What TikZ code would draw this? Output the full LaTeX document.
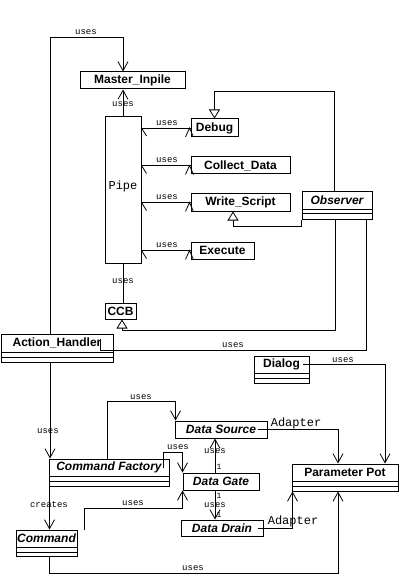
\documentclass[tikz,border=0pt]{standalone}
\usepackage{fontspec}
\setsansfont{Liberation Sans}
\setmonofont{Liberation Mono}
\usetikzlibrary{arrows.meta}

\tikzset{
  cls/.style={draw, line width=1pt, inner sep=0pt, font=\sffamily\bfseries\fontsize{12}{14}\selectfont},
  clsname/.style={inner sep=0pt, font=\sffamily\bfseries\fontsize{12}{14}\selectfont},
  ital/.style={font=\sffamily\bfseries\itshape\fontsize{12}{14}\selectfont},
  sepline/.style={line width=1pt},
  conn/.style={line width=0.8pt},
  uses/.style={conn, -{Straight Barb[length=9pt,width=10pt]}},
  inh/.style={conn, -{Triangle[open,length=9pt,width=11pt,fill=white]}},
  lbl/.style={inner sep=0pt, font=\ttfamily\fontsize{9}{10}\selectfont},
  lblbig/.style={inner sep=0pt, font=\ttfamily\fontsize{12}{14}\selectfont},
  lblsm/.style={inner sep=0pt, font=\ttfamily\fontsize{8}{9}\selectfont},
}

% #1 options, #2 name, #3 x1, #4 y1, #5 x2, #6 y2, #7 text
\newcommand\plainbox[7][]{%
  \node[cls,#1,minimum width={#5-#3},minimum height={#6-#4}] (#2) at ({(#3+#5)/2},{(#4+#6)/2}) {#7};}
% #1 options, #2 name, #3 x1, #4 y1, #5 x2, #6 y2, #7 sep1, #8 sep2, #9 text
\newcommand\umlclass[9][]{%
  \node[cls,minimum width={#5-#3},minimum height={#6-#4}] (#2) at ({(#3+#5)/2},{(#4+#6)/2}) {};
  \node[clsname,#1,minimum width={#5-#3},minimum height={#7-#4}] (#2n) at ({(#3+#5)/2},{(#4+#7)/2}) {#9};
  \draw[sepline] (#2.west |- 0,#7) -- (#2.east |- 0,#7) (#2.west |- 0,#8) -- (#2.east |- 0,#8);}

\begin{document}
\begin{tikzpicture}[x=1pt,y=-1pt]
\fill[white] (0,0) rectangle (400,577);
\useasboundingbox (0,0) rectangle (400,577);

% classes
\plainbox{mi}{80}{72}{185}{89}{Master\_Inpile}
\plainbox{pipe}{105}{117}{141}{263}{}
\node[lblbig] (pipet) at (123,186) {Pipe};
\plainbox{dbg}{191}{119}{238}{137}{Debug}
\plainbox{col}{191}{157}{290}{174}{Collect\_Data}
\plainbox{ws}{191}{194}{290}{211}{Write\_Script}
\plainbox{exe}{191}{242}{254}{259}{Execute}
\umlclass[ital]{obs}{302}{192}{372}{219}{209}{213}{Observer}
\plainbox{ccb}{105}{303}{136}{319}{CCB}
\umlclass{ah}{1}{334}{113}{362}{352}{357}{Action\_Handler}
\umlclass{dlg}{254}{356}{309}{383}{373}{378}{Dialog}
\plainbox[ital]{ds}{175}{421}{267}{438}{Data Source}
\umlclass[ital]{cf}{49}{459}{169}{486}{476}{481}{Command Factory}
\umlclass{pp}{292}{464}{398}{491}{481}{486}{Parameter Pot}
\plainbox[ital]{dg}{183}{473}{259}{490}{Data Gate}
\plainbox[ital]{dd}{181}{520}{263}{536}{Data Drain}
\umlclass[ital]{cmd}{16}{530}{77}{556}{547}{552}{Command}

% connectors
\draw[uses] ([xshift=-7pt]ah.north) |- (pipe.north |- 0,37) -- (pipe.north |- mi.north);
\draw[uses] (pipe.north) -- (pipe.north |- mi.south);
\foreach \b in {dbg,col,ws,exe}{
  \draw[conn] (\b.west) -- (\b.west -| pipe.east);
  \draw[conn] (\b.west -| pipe.east) -- ++(5,8);
  \draw[conn] ([xshift=-1pt]\b.west) ++(-4,9) -- ++(4,-9) -- ++(4,9);
}
\draw[inh] ([xshift=-3pt]obs.north) |- (dbg.north |- 0,91) -- (dbg.north);
\draw[inh] (obs.south west) -- ++(0,7) -| ([xshift=-7.5pt]ws.south);
\draw[inh] ([xshift=-2pt]obs.south) -- ++(0,111) -| ([xshift=1.5pt]ccb.south);
\draw[conn] (pipe.south) -- (pipe.south |- ccb.north);
\draw[conn] ([xshift=29pt]obs.south) -- ++(0,131) -| ([xshift=43pt,yshift=-5pt]ah.north);
\coordinate (ahS) at ([xshift=-7pt]ah.south);
\draw[uses] (ahS) -- (ahS |- cf.north);
\coordinate (cfS) at ([xshift=1pt]cf.south west);
\draw[uses] (cfS) -- (cfS |- cmd.north);
\draw[uses] ([xshift=-2pt]cf.north) |- ([xshift=1pt,yshift=19pt]ds.north west) -- ([xshift=1pt]ds.north west);
\draw[uses] ([xshift=-6pt,yshift=-9pt]cf.north east) |- ([yshift=20pt]dg.north west) -- (dg.north west);
\draw[uses] ([xshift=7pt]cmd.north east) |- ([yshift=-18pt]dg.south west) -- (dg.south west);
\coordinate (dgT) at ([xshift=-6pt]dg.north);
\coordinate (dgB) at ([xshift=-6pt]dg.south);
\draw[uses] (dgT) -- (dgT |- ds.south);
\draw[uses] (dgB) -- (dgB |- dd.north);
\draw[uses] ([xshift=-10pt]ds.east) -| ([xshift=-7pt]pp.north);
\draw[uses] ([xshift=-6pt]dlgn.east) -| ([xshift=40pt]pp.north);
\draw[uses] ([xshift=-6pt]dd.east) -| ([xshift=1pt]pp.south west);
\draw[uses] ([xshift=2.5pt]cmd.south) -- ++(0,17) -| ([xshift=-7pt]pp.south);

% labels
\node[lbl] (l1) at (86,32) {uses};
\node[lbl] (l2) at (123,104) {uses};
\node[lbl] (l3) at (167,123) {uses};
\node[lbl] (l4) at (167,160) {uses};
\node[lbl] (l5) at (167,197) {uses};
\node[lbl] (l6) at (167,245) {uses};
\node[lbl] (l7) at (123,281) {uses};
\node[lbl] (l8) at (233,345) {uses};
\node[lbl] (l9) at (48,431) {uses};
\node[lbl] (l10) at (49,505) {creates};
\node[lbl] (l11) at (141,397) {uses};
\node[lbl] (l12) at (178,447) {uses};
\node[lbl] (l13) at (133,503) {uses};
\node[lbl] (l14) at (215,451) {uses};
\node[lblsm] (l15) at (219,467) {1};
\node[lblsm] (l16) at (219,496) {1};
\node[lbl] (l17) at (215,505) {uses};
\node[lblsm] (l18) at (219,515) {1};
\node[lblbig] (l19) at (296,423) {Adapter};
\node[lbl] (l20) at (343,360) {uses};
\node[lblbig] (l21) at (293,521) {Adapter};
\node[lbl] (l22) at (193,568) {uses};
\end{tikzpicture}
\end{document}
